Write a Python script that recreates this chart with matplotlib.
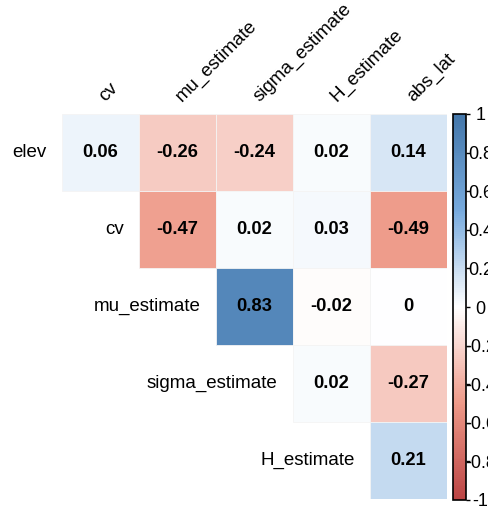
import matplotlib
matplotlib.use("Agg")
import matplotlib.pyplot as plt
import numpy as np
from matplotlib.colors import LinearSegmentedColormap, Normalize
from matplotlib.cm import ScalarMappable
from matplotlib.patches import Rectangle

plt.rcParams['font.family'] = ['Liberation Sans', 'DejaVu Sans']

row_labels = ["elev", "cv", "mu_estimate", "sigma_estimate", "H_estimate"]
col_labels = ["cv", "mu_estimate", "sigma_estimate", "H_estimate", "abs_lat"]

# upper triangle (row i covers columns i..4)
elev_vals = [0.06, -0.26, -0.24, 0.02, 0.14]
cv_vals = [-0.47, 0.02, 0.03, -0.49]
mu_vals = [0.83, -0.02, 0.0]
sigma_vals = [0.02, -0.27]
h_vals = [0.21]
row_values = [elev_vals, cv_vals, mu_vals, sigma_vals, h_vals]

cbar_ticks = [-1, -0.8, -0.6, -0.4, -0.2, 0, 0.2, 0.4, 0.6, 0.8, 1]

cmap = LinearSegmentedColormap.from_list(
    "corr", ["#BB4444", "#EE9988", "#FFFFFF", "#77AADD", "#4477AA"], N=200)
norm = Normalize(-1, 1)

W, H = 488, 509
fig = plt.figure(figsize=(W / 100, H / 100), dpi=100)
ax = fig.add_axes([62 / W, (H - 499) / H, 385 / W, 385 / H])
ax.set_xlim(-0.5, 4.5)
ax.set_ylim(4.5, -0.5)
ax.axis("off")

def fmt(v):
    if v == 0:
        return "0"
    return f"{v:.2f}"

for i, vals in enumerate(row_values):
    for k, v in enumerate(vals):
        j = i + k
        ax.add_patch(Rectangle((j - 0.5, i - 0.5), 1, 1, facecolor=cmap(norm(v)),
                               edgecolor="#f4f4f4", linewidth=0.6))
        ax.text(j, i, fmt(v), ha="center", va="center", fontsize=13.2,
                fontweight="bold", color="black")
    ax.text(i - 0.5 - 0.2, i, row_labels[i], ha="right", va="center",
            fontsize=13.5, color="black")

for j, lab in enumerate(col_labels):
    ax.text(j + 0.1, -0.5 - 0.12, lab, rotation=45, ha="left", va="bottom",
            rotation_mode="anchor", fontsize=13.5, color="black")

cax = fig.add_axes([453 / W, (H - 500) / H, 13 / W, 386 / H])
sm = ScalarMappable(norm=norm, cmap=cmap)
cb = fig.colorbar(sm, cax=cax, ticks=cbar_ticks)
cb.ax.set_yticklabels([("0" if t == 0 else f"{t:g}") for t in cbar_ticks])
cb.outline.set_edgecolor("black")
cb.outline.set_linewidth(1.2)
cb.ax.tick_params(length=3, width=1, color="black", labelsize=13, pad=7.5)
for lbl in cb.ax.get_yticklabels():
    lbl.set_horizontalalignment("center")

fig.savefig("out.png", dpi=100)
